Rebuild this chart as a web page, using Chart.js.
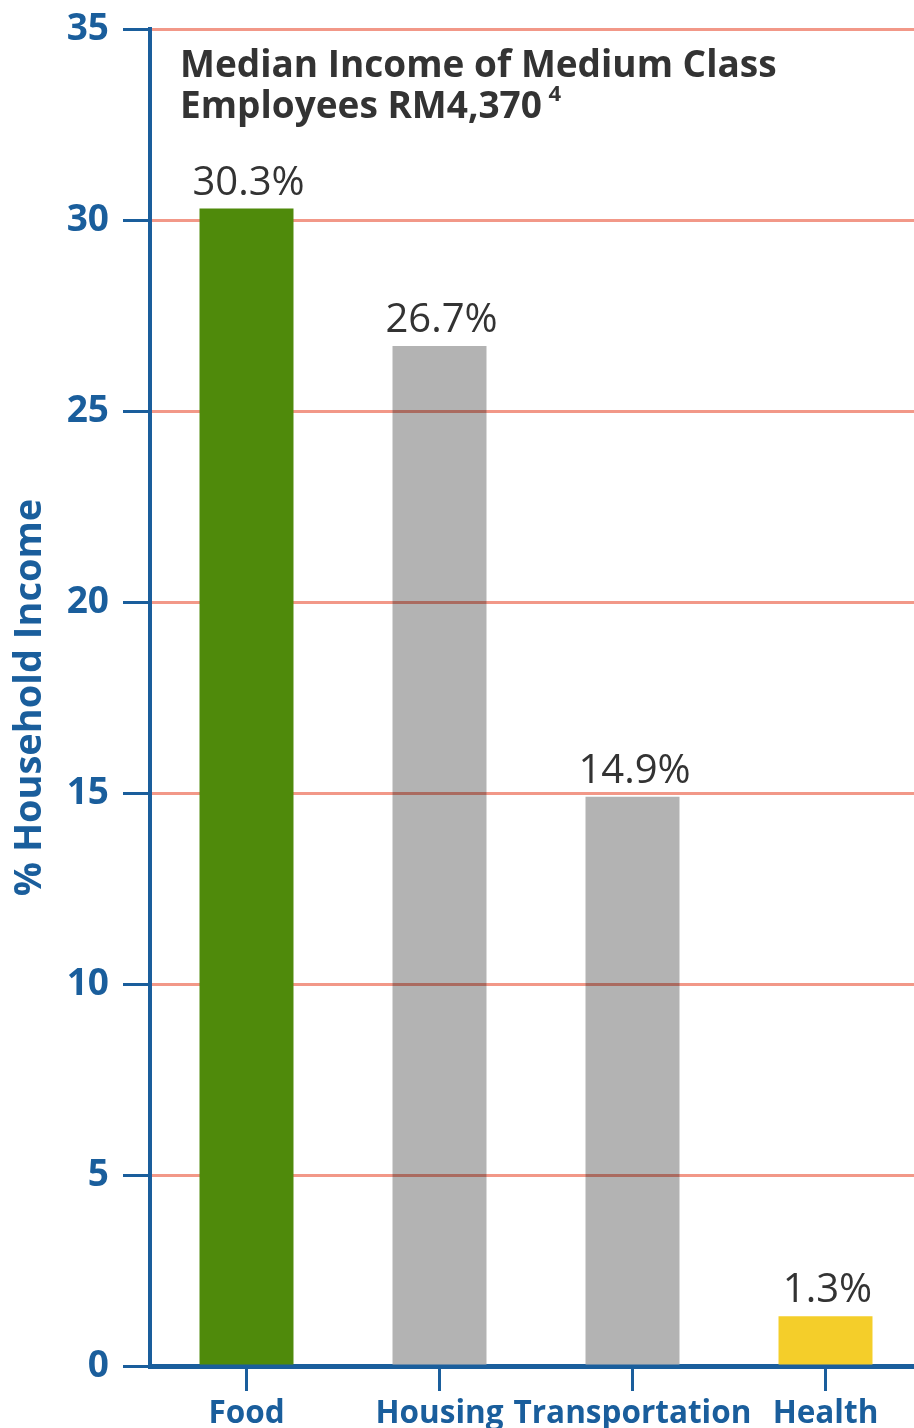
<!DOCTYPE html>
<html>
<head>
<meta charset="utf-8">
<script src="https://cdn.jsdelivr.net/npm/chart.js@4.4.1/dist/chart.umd.min.js"></script>
<style>
  html, body { margin: 0; padding: 0; background: #ffffff; overflow: hidden; }
  #wrap { position: relative; width: 924px; height: 1428px; }
</style>
</head>
<body>
<div id="wrap"><canvas id="chart"></canvas></div>
<script>
// Share of household income spent per category
const categories = ['Food', 'Housing', 'Transportation', 'Health'];
const shares = [30.3, 26.7, 14.9, 1.3];
const barColors = ['#4f8a0b', '#b3b3b3', '#b3b3b3', '#f4ce2a'];
const gridShowsThrough = [false, true, true, false];
const yTicks = [0, 5, 10, 15, 20, 25, 30, 35];
const titleLines = ['Median Income of Medium Class', 'Employees RM4,370'];
const titleNote = '4';
const yTitle = '% Household Income';

const BLUE = '#1a5e9c';
const TEXT = '#333333';
const GRID = 'rgb(242,152,136)';
const FONT = '"Open Sans", "Noto Sans", sans-serif';

// Title block drawn inside the plot area, top-left
const titleBlock = {
  id: 'titleBlock',
  afterDraw(chart) {
    const ctx = chart.ctx;
    const x = chart.chartArea.left + 30;
    ctx.save();
    ctx.fillStyle = TEXT;
    ctx.textAlign = 'left';
    ctx.textBaseline = 'alphabetic';
    ctx.font = 'bold 37px ' + FONT;
    ctx.fillText(titleLines[0], x, 77);
    ctx.fillText(titleLines[1], x, 118);
    const w = ctx.measureText(titleLines[1] + ' ').width;
    ctx.font = 'bold 22px ' + FONT;
    ctx.fillText(titleNote, x + w - 3, 101);
    ctx.restore();
  }
};

// Grid lines tinted through the grey bars (multiplied over the fill)
const gridThroughBars = {
  id: 'gridThroughBars',
  afterDatasetsDraw(chart) {
    const ctx = chart.ctx;
    const y = chart.scales.y;
    const meta = chart.getDatasetMeta(0);
    ctx.save();
    ctx.globalCompositeOperation = 'multiply';
    ctx.strokeStyle = GRID;
    ctx.lineWidth = 3;
    meta.data.forEach((bar, i) => {
      if (!gridShowsThrough[i]) return;
      const half = bar.width / 2;
      yTicks.forEach(v => {
        if (v <= 0 || v >= shares[i]) return;
        const py = Math.round(y.getPixelForValue(v)) + 0.5;
        ctx.beginPath();
        ctx.moveTo(bar.x - half, py);
        ctx.lineTo(bar.x + half, py);
        ctx.stroke();
      });
    });
    ctx.restore();
  }
};

// Percentage labels above each bar
const valueLabels = {
  id: 'valueLabels',
  afterDatasetsDraw(chart) {
    const ctx = chart.ctx;
    const meta = chart.getDatasetMeta(0);
    ctx.save();
    ctx.fillStyle = TEXT;
    ctx.font = '40px ' + FONT;
    ctx.textAlign = 'center';
    ctx.textBaseline = 'alphabetic';
    meta.data.forEach((bar, i) => {
      ctx.fillText(shares[i].toFixed(1) + '%', bar.x + 2, bar.y - 14);
    });
    ctx.restore();
  }
};

new Chart(document.getElementById('chart'), {
  type: 'bar',
  data: {
    labels: categories,
    datasets: [{
      data: shares,
      backgroundColor: barColors,
      borderWidth: 0,
      categoryPercentage: 1,
      barPercentage: 0.487
    }]
  },
  options: {
    responsive: true,
    maintainAspectRatio: false,
    animation: false,
    events: [],
    layout: { padding: { top: 29, right: 2, bottom: 0, left: 0 } },
    plugins: {
      legend: { display: false },
      tooltip: { enabled: false }
    },
    scales: {
      x: {
        offset: true,
        afterFit(scale) { scale.height = 62; },
        border: { display: true, color: BLUE, width: 5 },
        grid: {
          offset: false,
          drawOnChartArea: false,
          drawTicks: true,
          tickLength: 25,
          tickColor: BLUE,
          tickWidth: 3
        },
        ticks: {
          color: BLUE,
          padding: 4,
          maxRotation: 0,
          autoSkip: false,
          font: { family: FONT, size: 31.5, weight: 'bold' }
        }
      },
      y: {
        min: 0,
        max: 35,
        afterFit(scale) {
          scale.width = 150;
          scale.paddingTop = 0;
          scale.paddingBottom = 0;
        },
        afterBuildTicks(scale) { scale.ticks = yTicks.map(v => ({ value: v })); },
        border: { display: true, color: BLUE, width: 4 },
        grid: {
          color: ctx => (ctx.tick && ctx.tick.value === 0) ? 'rgba(0,0,0,0)' : GRID,
          lineWidth: 3,
          drawTicks: true,
          tickLength: 27,
          tickColor: BLUE,
          tickWidth: 3
        },
        ticks: {
          color: BLUE,
          padding: 14,
          font: { family: FONT, size: 37, weight: 'bold' }
        },
        title: {
          display: true,
          text: yTitle,
          color: BLUE,
          padding: { top: 7, bottom: 0 },
          font: { family: FONT, size: 38, weight: 'bold' }
        }
      }
    }
  },
  plugins: [gridThroughBars, valueLabels, titleBlock]
});
</script>
</body>
</html>
